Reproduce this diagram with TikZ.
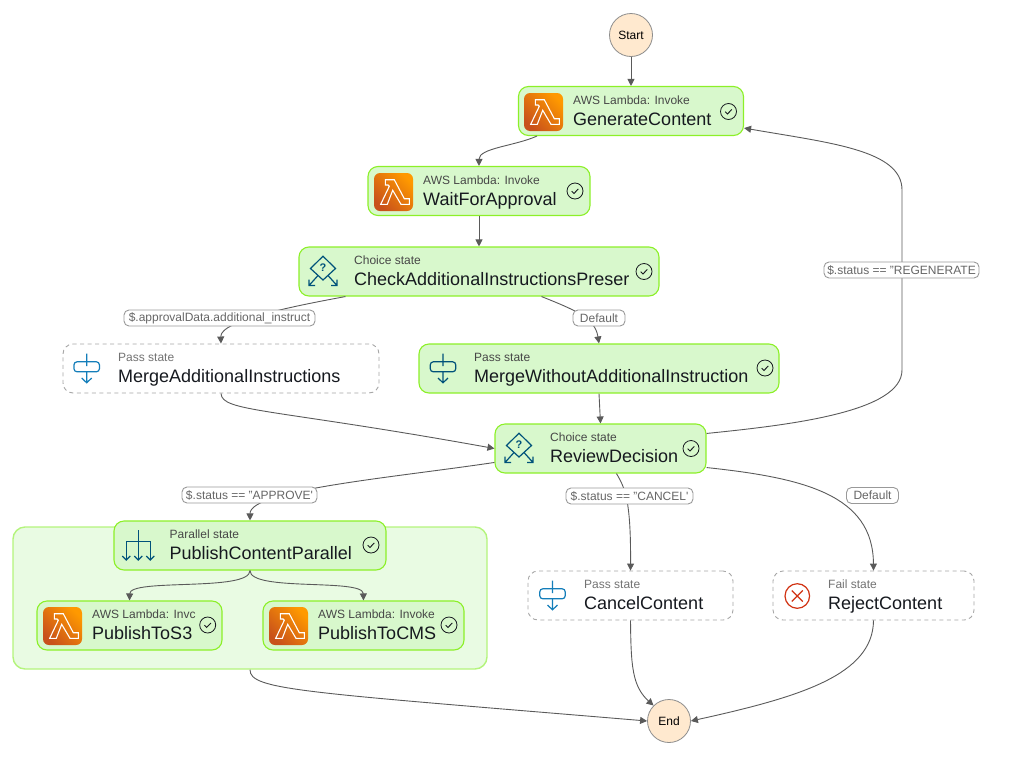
\documentclass[tikz,border=0pt]{standalone}
\usepackage{fontspec}
\setmainfont{Liberation Sans}
\usetikzlibrary{arrows.meta}
\definecolor{donefill}{HTML}{D8F8CC}
\definecolor{doneline}{HTML}{8CF028}
\definecolor{groupfill}{HTML}{E9FBE3}
\definecolor{groupline}{HTML}{B4F47C}
\definecolor{endfill}{HTML}{FFE9CF}
\definecolor{edgecolor}{HTML}{5A5A5A}
\definecolor{inkcolor}{HTML}{16191F}
\definecolor{passblue}{HTML}{147EBA}
\definecolor{navyblue}{HTML}{00527A}
\definecolor{failred}{HTML}{D13212}
\definecolor{lambdadark}{HTML}{C8511B}
\definecolor{lambdalight}{HTML}{FF9900}
\tikzset{
lambdaicon/.pic={
    \shade[rounded corners=6pt, bottom color=lambdadark, top color=lambdalight, shading angle=-45] (0,0) rectangle (39,38);
    \draw[white, line width=1.1pt, line join=miter] (11.3,6.7) -- (20.3,6.7) -- (30.3,25.7) -- (35.3,25.7) -- (35.3,31.3) -- (27,31.3) -- (18.7,17.3) -- (13.3,31.3) -- (6.7,31.3) -- (15.3,13.3) -- (14,12) -- (11.3,12) -- cycle;
},
passicon/.pic={
    \draw[pic actions, line width=1.2pt, rounded corners=3pt] (-12.7,-6.7) rectangle (12.7,3.3);
    \draw[pic actions, line width=1.2pt] (0,-15) -- (0,-2.3) (0,3.3) -- (0,14.3) (-5,9.5) -- (0,14.3) -- (5,9.5);
},
choiceicon/.pic={
    \draw[navyblue, line width=1.2pt] (-5,6.9) -- (-12.5,0) -- (0,-12.3) -- (12.5,0) -- (5,6.9);
    \draw[navyblue, line width=1.2pt] (-5,6.9) -- (0,11.5) -- (5,6.9);
    \draw[navyblue, line width=1.2pt] (-5,7) -- (-14,17) (-14,11) -- (-14,17) -- (-8,17);
    \draw[navyblue, line width=1.2pt] (5,7) -- (14,17) (14,11) -- (14,17) -- (8,17);
    \node[navyblue, font=\fontsize{11}{11}\selectfont\bfseries, inner sep=0pt](mark) at (0,-0.5) {?};
},
parallelicon/.pic={
    \draw[navyblue, line width=1.2pt] (0,-15) -- (0,15) (-12,15) -- (-12,-3.3) -- (12,-3.3) -- (12,15);
    \foreach \tipx in {-12,0,12}
        \draw[navyblue, line width=1.2pt] (\tipx-4,11) -- (\tipx,15) -- (\tipx+4,11);
},
failicon/.pic={
    \draw[failred, line width=1.2pt] (0,0) circle (12.3);
    \draw[failred, line width=1.2pt] (-5.5,-5.5) -- (5.5,5.5) (-5.5,5.5) -- (5.5,-5.5);
},
doneicon/.pic={
    \draw[inkcolor, line width=0.8pt] (0,0) circle (8);
    \draw[inkcolor, line width=0.9pt] (-3.3,0.2) -- (-1,2.4) -- (3.3,-2);
},
}
\begin{document}
\begin{tikzpicture}[x=1pt, y=-1pt,
donebox/.style={draw=doneline, fill=donefill, line width=1.1pt, rounded corners=10pt, inner sep=0pt},
passbox/.style={draw=black!35, fill=white, line width=0.9pt, dash pattern=on 4pt off 3.5pt, rounded corners=10pt, inner sep=0pt},
kindtext/.style={anchor=base west, inner sep=0pt, text=black!72, font=\fontsize{12}{14}\selectfont},
passkind/.style={kindtext, text=black!55},
nametext/.style={anchor=base west, inner sep=0pt, text=inkcolor, font=\fontsize{18}{20}\selectfont},
endpoint/.style={circle, draw=black!45, fill=endfill, line width=0.8pt, minimum size=43pt, inner sep=0pt, text=black, font=\fontsize{12}{14}\selectfont},
flow/.style={draw=edgecolor, line width=0.9pt, -{Triangle[length=7pt, width=7pt]}},
flowlabel/.style={draw=black!40, fill=white, line width=0.9pt, rounded corners=5pt, inner sep=0pt, minimum height=16pt, text=black!60, font=\fontsize{12}{14}\selectfont},
]
    \useasboundingbox (0,0) rectangle (1036,758);

    \node[endpoint](Start) at (631,35) {Start};
    \node[endpoint](End) at (669,721) {End};

    \node[donebox, minimum width=225pt, minimum height=49pt](GenerateContent) at (631,111) {};
    \node[donebox, minimum width=222pt, minimum height=49pt](WaitForApproval) at (479,191) {};
    \node[donebox, minimum width=360pt, minimum height=49pt](CheckInstructions) at (479,271.5) {};
    \node[passbox, minimum width=316pt, minimum height=49pt](MergeAdditional) at (221,368.5) {};
    \node[donebox, minimum width=360pt, minimum height=49pt](MergeWithout) at (599,368.5) {};
    \node[donebox, minimum width=211pt, minimum height=49pt](ReviewDecision) at (600.5,448.5) {};
    \node[draw=groupline, fill=groupfill, line width=1.4pt, rounded corners=12pt, inner sep=0pt, minimum width=474pt, minimum height=142pt](ParallelGroup) at (250,598) {};
    \node[donebox, minimum width=272pt, minimum height=49pt](PublishParallel) at (250,545.5) {};
    \node[donebox, minimum width=185pt, minimum height=49pt](PublishToS3) at (129.5,625.5) {};
    \node[donebox, minimum width=201pt, minimum height=49pt](PublishToCMS) at (363.5,625.5) {};
    \node[passbox, minimum width=205pt, minimum height=49pt](CancelContent) at (630.5,595.5) {};
    \node[passbox, minimum width=201pt, minimum height=49pt](RejectContent) at (873.5,595.5) {};

    \node[kindtext](kindA) at (573,104) {AWS Lambda: Invoke};
    \node[nametext](nameA) at (573,125) {GenerateContent};
    \node[kindtext](kindB) at (423,184) {AWS Lambda: Invoke};
    \node[nametext](nameB) at (423,205) {WaitForApproval};
    \node[kindtext](kindC) at (354,264) {Choice state};
    \node[nametext](nameC) at (354,285) {CheckAdditionalInstructionsPreser};
    \node[passkind](kindD) at (118,361) {Pass state};
    \node[nametext](nameD) at (118,382) {MergeAdditionalInstructions};
    \node[kindtext](kindE) at (474,361) {Pass state};
    \node[nametext](nameE) at (474,382) {MergeWithoutAdditionalInstruction};
    \node[kindtext](kindF) at (550,441) {Choice state};
    \node[nametext](nameF) at (550,462) {ReviewDecision};
    \node[kindtext](kindG) at (169.5,538) {Parallel state};
    \node[nametext](nameG) at (169.5,559) {PublishContentParallel};
    \node[kindtext](kindH) at (92,618) {AWS Lambda: Invc};
    \node[nametext](nameH) at (92,639) {PublishToS3};
    \node[kindtext](kindI) at (318,618) {AWS Lambda: Invoke};
    \node[nametext](nameI) at (318,639) {PublishToCMS};
    \node[passkind](kindJ) at (584,588) {Pass state};
    \node[nametext](nameJ) at (584,609) {CancelContent};
    \node[passkind](kindK) at (828,588) {Fail state};
    \node[nametext](nameK) at (828,609) {RejectContent};

    \pic at (524,93) {lambdaicon};
    \pic at (374,173) {lambdaicon};
    \pic at (43,607) {lambdaicon};
    \pic at (269,607) {lambdaicon};
    \pic[draw=passblue] at (86.7,368.5) {passicon};
    \pic[draw=navyblue] at (443,368.5) {passicon};
    \pic[draw=passblue] at (552.5,595.5) {passicon};
    \pic at (323,268.5) {choiceicon};
    \pic at (519,445.5) {choiceicon};
    \pic at (138.3,545) {parallelicon};
    \pic at (797.3,596) {failicon};
    \pic at (728.5,111.5) {doneicon};
    \pic at (575,191) {doneicon};
    \pic at (644,271.5) {doneicon};
    \pic at (765,368) {doneicon};
    \pic at (691,448.5) {doneicon};
    \pic at (371,545) {doneicon};
    \pic at (207.7,625) {doneicon};
    \pic at (449,625) {doneicon};

    \draw[flow] (Start.south) -- (GenerateContent.north);
    \draw[flow] ([shift={(19,0)}]GenerateContent.south west) .. controls (515,146) and (479,148) .. (WaitForApproval.north);
    \draw[flow] (WaitForApproval.south) -- (CheckInstructions.north);
    \draw[flow] ([shift={(47,0)}]CheckInstructions.south west) .. controls (300,305) and (220,320) .. (MergeAdditional.north);
    \draw[flow] ([shift={(-118,0)}]CheckInstructions.south east) .. controls (575,310) and (595,318) .. (MergeWithout.north);
    \draw[flow] (MergeAdditional.south) .. controls (222,412) and (270,408) .. (ReviewDecision.west);
    \draw[flow] (MergeWithout.south) -- (ReviewDecision.north);
    \draw[flow] ([shift={(0,10)}]ReviewDecision.north east) .. controls (790,425) and (902,412) .. (902,370) -- (902,190) .. controls (902,150) and (830,143) .. ([shift={(0,-8)}]GenerateContent.south east);
    \draw[flow] ([shift={(0,39)}]ReviewDecision.north west) .. controls (390,478) and (250,490) .. (PublishParallel.north);
    \draw[flow] ([shift={(122,0)}]ReviewDecision.south west) .. controls (625,488) and (631,500) .. (CancelContent.north);
    \draw[flow] ([shift={(0,-6)}]ReviewDecision.south east) .. controls (805,478) and (873,495) .. (RejectContent.north);
    \draw[flow] (PublishParallel.south) .. controls (250,592) and (130,578) .. (PublishToS3.north);
    \draw[flow] (PublishParallel.south) .. controls (250,592) and (363,578) .. (PublishToCMS.north);
    \draw[flow] (ParallelGroup.south) .. controls (250,690) and (300,692) .. (End.west);
    \draw[flow] (CancelContent.south) .. controls (631,665) and (632,686) .. (End.north west);
    \draw[flow] (RejectContent.south) .. controls (873,675) and (800,697) .. (End.east);

    \node[flowlabel, minimum width=191pt](labelA) at (219.5,318) {\$.approvalData.additional\_instruct};
    \node[flowlabel, minimum width=52pt](labelB) at (599,318) {Default};
    \node[flowlabel, minimum width=155pt](labelC) at (901.5,270) {\$.status == "REGENERATE};
    \node[flowlabel, minimum width=135pt](labelD) at (249.5,495) {\$.status == "APPROVE\textquotesingle};
    \node[flowlabel, minimum width=127pt](labelE) at (629.5,496) {\$.status == "CANCEL\textquotesingle};
    \node[flowlabel, minimum width=52pt](labelF) at (872.5,495.5) {Default};
\end{tikzpicture}
\end{document}
